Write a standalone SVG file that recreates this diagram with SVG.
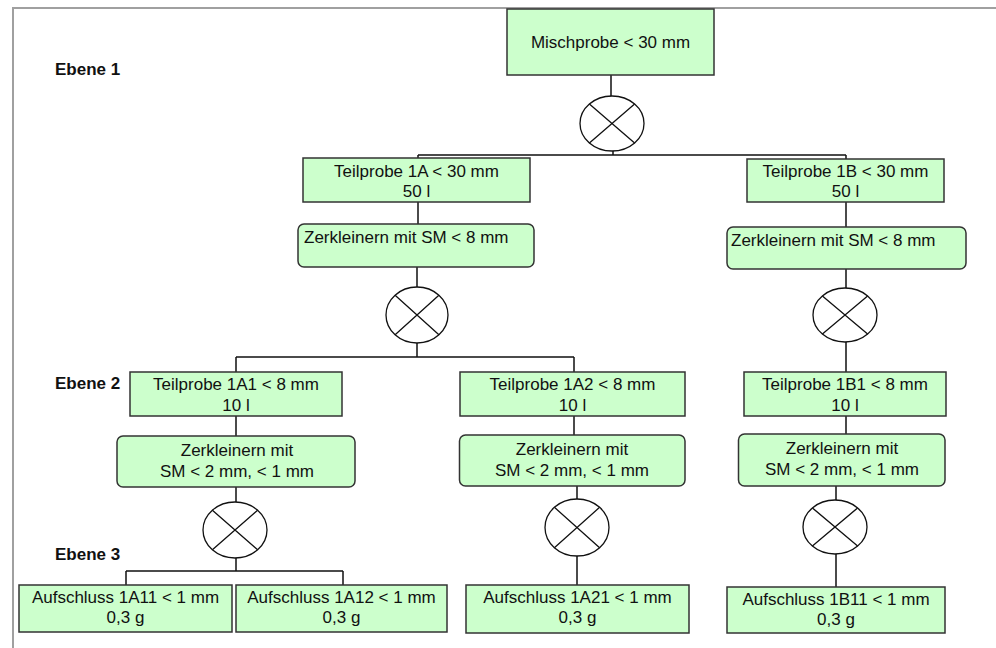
<svg xmlns="http://www.w3.org/2000/svg" width="996" height="648" viewBox="0 0 996 648">
<style>
text{font-family:"Liberation Sans",Arial,sans-serif;font-size:17px;fill:#111}
.c{text-anchor:middle}
.lvl{font-weight:bold}
.box{fill:#ccffcc;stroke:#333;stroke-width:1.5}
.el{fill:#fff;stroke:#111;stroke-width:1.3}
.x{stroke:#111;stroke-width:1.3}
.con{fill:none;stroke:#111;stroke-width:1.5}
</style>
<rect x="0" y="0" width="996" height="648" fill="#fff"/>
<rect x="13" y="8" width="1000" height="700" fill="none" stroke="#a0a0a0" stroke-width="2"/>
<g id="labels">
<text class="lvl" x="55" y="75">Ebene 1</text>
<text class="lvl" x="55" y="389">Ebene 2</text>
<text class="lvl" x="55" y="560">Ebene 3</text>
</g>
<g id="connectors">
<path class="con" d="M611,75V96 M613,151V155 M418,155H846 M418,155V158 M846,155V159"/>
<path class="con" d="M418,202V224 M417,267V287 M417,343V357 M236,357H574 M236,357V372 M574,357V372"/>
<path class="con" d="M846,202V227 M846,269V288 M846,342V372 M846,416V434 M836,486V500 M836,554V587"/>
<path class="con" d="M236,416V436 M236,487V502 M236,558V571 M126,571H343 M126,571V585 M343,571V585"/>
<path class="con" d="M574,416V435 M577,486V499 M577,556V585"/>
</g>
<g id="n-misch"><rect class="box" x="507" y="9" width="207" height="66"/><text class="c" x="610.5" y="48">Mischprobe &lt; 30 mm</text></g>
<g id="s-1"><ellipse class="el" cx="612" cy="123.5" rx="32" ry="27.5"/><path class="x" d="M589.4,104 L634.6,143 M634.6,104 L589.4,143"/></g>
<g id="n-1a"><rect class="box" x="303" y="158" width="227" height="44"/><text class="c" x="416.5" y="177">Teilprobe 1A &lt; 30 mm</text><text class="c" x="416.5" y="197">50 l</text></g>
<g id="n-1b"><rect class="box" x="747" y="159" width="197" height="43"/><text class="c" x="845.5" y="177">Teilprobe 1B &lt; 30 mm</text><text class="c" x="845.5" y="197">50 l</text></g>
<g id="z-1a"><rect class="box" x="298" y="224" width="236" height="43" rx="6"/><text x="304" y="243">Zerkleinern mit SM &lt; 8 mm</text></g>
<g id="z-1b"><rect class="box" x="727" y="227" width="239" height="42" rx="6"/><text x="731" y="246">Zerkleinern mit SM &lt; 8 mm</text></g>
<g id="s-1a"><ellipse class="el" cx="417" cy="315" rx="31" ry="28"/><path class="x" d="M395.1,295.2 L438.9,334.8 M438.9,295.2 L395.1,334.8"/></g>
<g id="s-1b"><ellipse class="el" cx="845" cy="315" rx="32" ry="27"/><path class="x" d="M822.4,295.9 L867.6,334.1 M867.6,295.9 L822.4,334.1"/></g>
<g id="n-1a1"><rect class="box" x="130" y="372" width="212" height="44"/><text class="c" x="236" y="390">Teilprobe 1A1 &lt; 8 mm</text><text class="c" x="236" y="411">10 l</text></g>
<g id="n-1a2"><rect class="box" x="460" y="372" width="225" height="44"/><text class="c" x="572.5" y="390">Teilprobe 1A2 &lt; 8 mm</text><text class="c" x="572.5" y="411">10 l</text></g>
<g id="n-1b1"><rect class="box" x="744" y="372" width="202" height="44"/><text class="c" x="845" y="390">Teilprobe 1B1 &lt; 8 mm</text><text class="c" x="845" y="411">10 l</text></g>
<g id="z-1a1"><rect class="box" x="117" y="436" width="238" height="51" rx="6"/><text class="c" x="237" y="456">Zerkleinern mit</text><text class="c" x="237" y="477">SM &lt; 2 mm, &lt; 1 mm</text></g>
<g id="z-1a2"><rect class="box" x="459.5" y="435" width="225.5" height="51" rx="6"/><text class="c" x="572" y="455">Zerkleinern mit</text><text class="c" x="572" y="476">SM &lt; 2 mm, &lt; 1 mm</text></g>
<g id="z-1b1"><rect class="box" x="738.5" y="434" width="206.5" height="52" rx="6"/><text class="c" x="842" y="454">Zerkleinern mit</text><text class="c" x="842" y="475">SM &lt; 2 mm, &lt; 1 mm</text></g>
<g id="s-1a1"><ellipse class="el" cx="235" cy="530" rx="32" ry="28"/><path class="x" d="M212.4,510.2 L257.6,549.8 M257.6,510.2 L212.4,549.8"/></g>
<g id="s-1a2"><ellipse class="el" cx="577" cy="527.5" rx="32" ry="28.5"/><path class="x" d="M554.4,507.3 L599.6,547.7 M599.6,507.3 L554.4,547.7"/></g>
<g id="s-1b1"><ellipse class="el" cx="835" cy="527" rx="32" ry="27"/><path class="x" d="M812.4,507.9 L857.6,546.1 M857.6,507.9 L812.4,546.1"/></g>
<g id="a-1a11"><rect class="box" x="19" y="585" width="213" height="47"/><text class="c" x="125.5" y="603">Aufschluss 1A11 &lt; 1 mm</text><text class="c" x="125.5" y="623">0,3 g</text></g>
<g id="a-1a12"><rect class="box" x="236" y="585" width="211" height="47"/><text class="c" x="341.5" y="603">Aufschluss 1A12 &lt; 1 mm</text><text class="c" x="341.5" y="623">0,3 g</text></g>
<g id="a-1a21"><rect class="box" x="466" y="585" width="223" height="48"/><text class="c" x="577.5" y="603">Aufschluss 1A21 &lt; 1 mm</text><text class="c" x="577.5" y="623">0,3 g</text></g>
<g id="a-1b11"><rect class="box" x="727" y="587" width="218" height="46"/><text class="c" x="836" y="605">Aufschluss 1B11 &lt; 1 mm</text><text class="c" x="836" y="625">0,3 g</text></g>
</svg>
